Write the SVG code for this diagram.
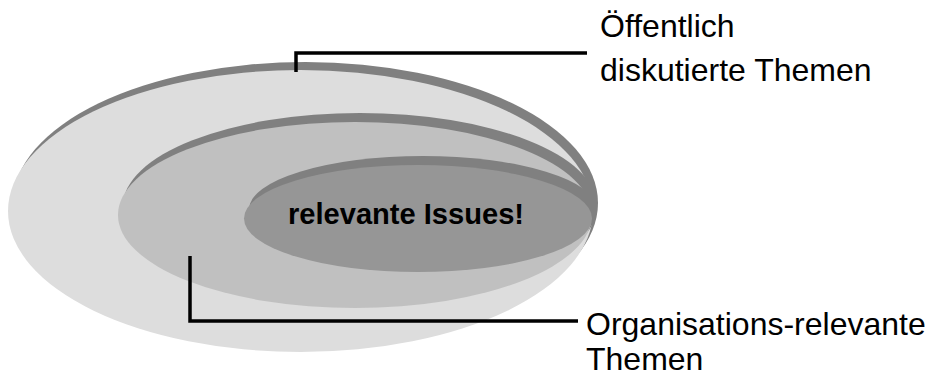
<svg xmlns="http://www.w3.org/2000/svg" width="930" height="381" viewBox="0 0 930 381">
  <style>
    .rim { fill: #808080; }
    .outer { fill: #dddddd; }
    .middle { fill: #c0c0c0; }
    .inner { fill: #969696; }
    .lead { fill: none; stroke: #000000; stroke-width: 3.5; stroke-linejoin: miter; }
    .label { font-family: "Liberation Sans", Arial, sans-serif; font-size: 32px; fill: #000000; }
    .core { font-family: "Liberation Sans", Arial, sans-serif; font-size: 30px; font-weight: bold; fill: #000000; }
  </style>
  <rect width="930" height="381" fill="#ffffff"/>

  <!-- Outer set: publicly discussed topics -->
  <g id="public-topics">
    <ellipse class="rim" cx="305.5" cy="203" rx="292.5" ry="141"/>
    <ellipse class="outer" cx="300.5" cy="211" rx="292.5" ry="141"/>
  </g>

  <!-- Middle set: topics relevant to the organisation -->
  <g id="org-topics">
    <ellipse class="rim" cx="360" cy="206" rx="237" ry="93"/>
    <ellipse class="middle" cx="355" cy="215" rx="237" ry="93"/>
  </g>

  <!-- Core set: relevant issues -->
  <g id="issues">
    <ellipse class="rim" cx="423" cy="209.5" rx="174" ry="53.5"/>
    <ellipse class="inner" cx="418" cy="218.5" rx="174" ry="53.5"/>
    <text class="core" x="288" y="224" textLength="236" lengthAdjust="spacingAndGlyphs">relevante Issues!</text>
  </g>

  <!-- Leader lines -->
  <g id="connectors">
    <polyline class="lead" points="296,72 296,53 587,53"/>
    <polyline class="lead" points="190,256 190,321 578,321"/>
  </g>

  <g id="label-public">
    <text class="label" x="600" y="37">Öffentlich</text>
    <text class="label" x="600" y="81">diskutierte Themen</text>
  </g>

  <g id="label-org">
    <text class="label" x="586" y="335">Organisations-relevante</text>
    <text class="label" x="586" y="370">Themen</text>
  </g>
</svg>
